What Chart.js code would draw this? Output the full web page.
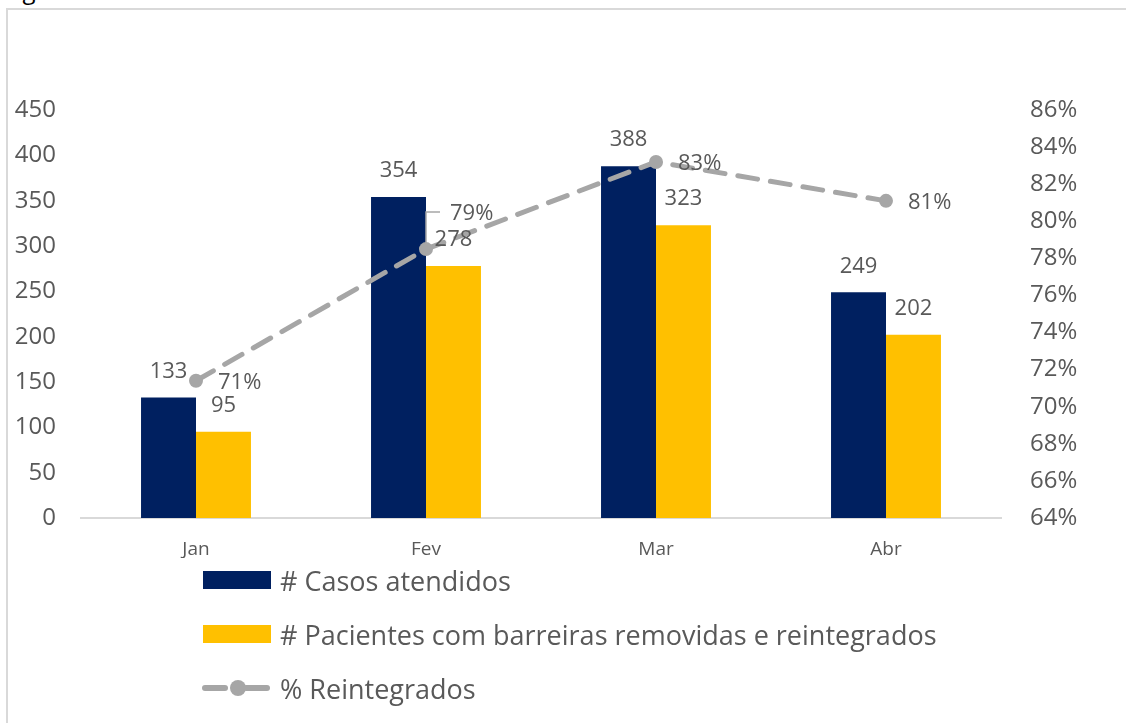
<!DOCTYPE html>
<html>
<head>
<meta charset="utf-8">
<script src="https://cdn.jsdelivr.net/npm/chart.js@4"></script>
<style>
  html, body { margin: 0; padding: 0; background: #fff; overflow: hidden; }
  body { width: 1126px; height: 723px; position: relative; font-family: "Open Sans", sans-serif; }
  #caption { position: absolute; left: 4px; top: -27px; font-size: 24px; color: #000; }
  #frame { position: absolute; left: 6px; top: 8px; width: 1200px; height: 800px; border: 2px solid #d9d9d9; box-sizing: border-box; background: transparent; }
  #wrap { position: absolute; left: 0; top: 0; width: 1126px; height: 723px; }
  #legend { position: absolute; left: 202px; top: 553px; color: #595959; font-size: 27px; }
  .item { height: 54px; display: flex; align-items: center; }
  .item .key { width: 70px; height: 36px; display: flex; align-items: center; justify-content: center; margin-right: 8px; }
  .item .box { width: 68px; height: 18px; }
</style>
</head>
<body>
<div id="caption">Figura 1</div>
<div id="frame"></div>
<div id="wrap"><canvas id="chart"></canvas></div>
<div id="legend"></div>
<script>
const meses = ['Jan', 'Fev', 'Mar', 'Abr'];
const casosAtendidos = [133, 354, 388, 249];
const pacientesReintegrados = [95, 278, 323, 202];
const pctReintegrados = [0.714, 0.785, 0.832, 0.811];
const leftTicks = [0, 450, 50];
const rightTicks = [0.64, 0.86, 0.02];

const navy = '#002060';
const amarelo = '#FFC000';
const cinza = '#A6A6A6';
const texto = '#595959';

// rótulos de dados
const rotulos = {
  id: 'rotulos',
  afterDatasetsDraw(chart) {
    const ctx = chart.ctx;
    ctx.save();
    ctx.fillStyle = texto;
    ctx.font = '22px "Open Sans"';
    ctx.textBaseline = 'middle';
    [0, 1].forEach((di) => {
      chart.getDatasetMeta(di).data.forEach((bar, i) => {
        ctx.textAlign = 'center';
        ctx.fillText(chart.data.datasets[di].data[i], bar.x, bar.y - 26);
      });
    });
    chart.getDatasetMeta(2).data.forEach((pt, i) => {
      const txt = Math.round(pctReintegrados[i] * 100) + '%';
      ctx.textAlign = 'left';
      if (i === 1) {
        // rótulo deslocado com linha de chamada
        ctx.strokeStyle = cinza;
        ctx.lineWidth = 1.5;
        ctx.beginPath();
        ctx.moveTo(pt.x, pt.y - 6);
        ctx.lineTo(pt.x, pt.y - 37);
        ctx.lineTo(pt.x + 14, pt.y - 37);
        ctx.stroke();
        ctx.fillText(txt, pt.x + 24, pt.y - 35);
      } else {
        ctx.fillText(txt, pt.x + 22, pt.y + 2);
      }
    });
    ctx.restore();
  }
};

const datasets = [
  {
    type: 'bar',
    label: '# Casos atendidos',
    data: casosAtendidos,
    backgroundColor: navy,
    yAxisID: 'y',
    order: 2,
    barPercentage: 1,
    categoryPercentage: 0.478
  },
  {
    type: 'bar',
    label: '# Pacientes com barreiras removidas e reintegrados',
    data: pacientesReintegrados,
    backgroundColor: amarelo,
    yAxisID: 'y',
    order: 2,
    barPercentage: 1,
    categoryPercentage: 0.478
  },
  {
    type: 'line',
    label: '% Reintegrados',
    data: pctReintegrados,
    borderColor: cinza,
    backgroundColor: cinza,
    borderWidth: 5,
    borderDash: [20, 13],
    borderCapStyle: 'round',
    pointRadius: 7,
    pointBackgroundColor: cinza,
    pointBorderWidth: 0,
    yAxisID: 'y1',
    order: 1,
    tension: 0
  }
];

new Chart(document.getElementById('chart'), {
  data: { labels: meses, datasets: datasets },
  plugins: [rotulos],
  options: {
    responsive: true,
    maintainAspectRatio: false,
    animation: false,
    layout: { padding: { top: 110, bottom: 165, left: 0, right: 0 } },
    plugins: { legend: { display: false }, tooltip: { enabled: false } },
    scales: {
      x: {
        grid: { display: false },
        border: { color: '#d9d9d9', width: 2 },
        ticks: { color: texto, font: { family: 'Open Sans', size: 19 }, padding: 12 },
        afterFit: (s) => { s.height = 40; }
      },
      y: {
        position: 'left',
        min: leftTicks[0], max: leftTicks[1],
        grid: { display: false },
        border: { display: false },
        ticks: { stepSize: leftTicks[2], color: texto, font: { family: 'Open Sans', size: 24 }, padding: 17 },
        afterFit: (s) => { s.width = 81; }
      },
      y1: {
        position: 'right',
        min: rightTicks[0], max: rightTicks[1],
        grid: { display: false },
        border: { display: false },
        ticks: {
          stepSize: rightTicks[2], color: texto, font: { family: 'Open Sans', size: 24 }, padding: 21,
          callback: (v) => Math.round(v * 100) + '%'
        },
        afterFit: (s) => { s.width = 125; }
      }
    }
  }
});

// legenda em HTML a partir dos datasets
const legend = document.getElementById('legend');
datasets.forEach((d) => {
  const item = document.createElement('div');
  item.className = 'item';
  let key;
  if (d.type === 'bar') {
    key = '<div class="key"><div class="box" style="background:' + d.backgroundColor + '"></div></div>';
  } else {
    key = '<div class="key"><svg width="70" height="36">' +
      '<line x1="3" y1="18" x2="23" y2="18" stroke="' + d.borderColor + '" stroke-width="6" stroke-linecap="round"/>' +
      '<circle cx="36" cy="18" r="8" fill="' + d.borderColor + '"/>' +
      '<line x1="44" y1="18" x2="65" y2="18" stroke="' + d.borderColor + '" stroke-width="6" stroke-linecap="round"/></svg></div>';
  }
  item.innerHTML = key + '<span>' + d.label + '</span>';
  legend.appendChild(item);
});
</script>
</body>
</html>
